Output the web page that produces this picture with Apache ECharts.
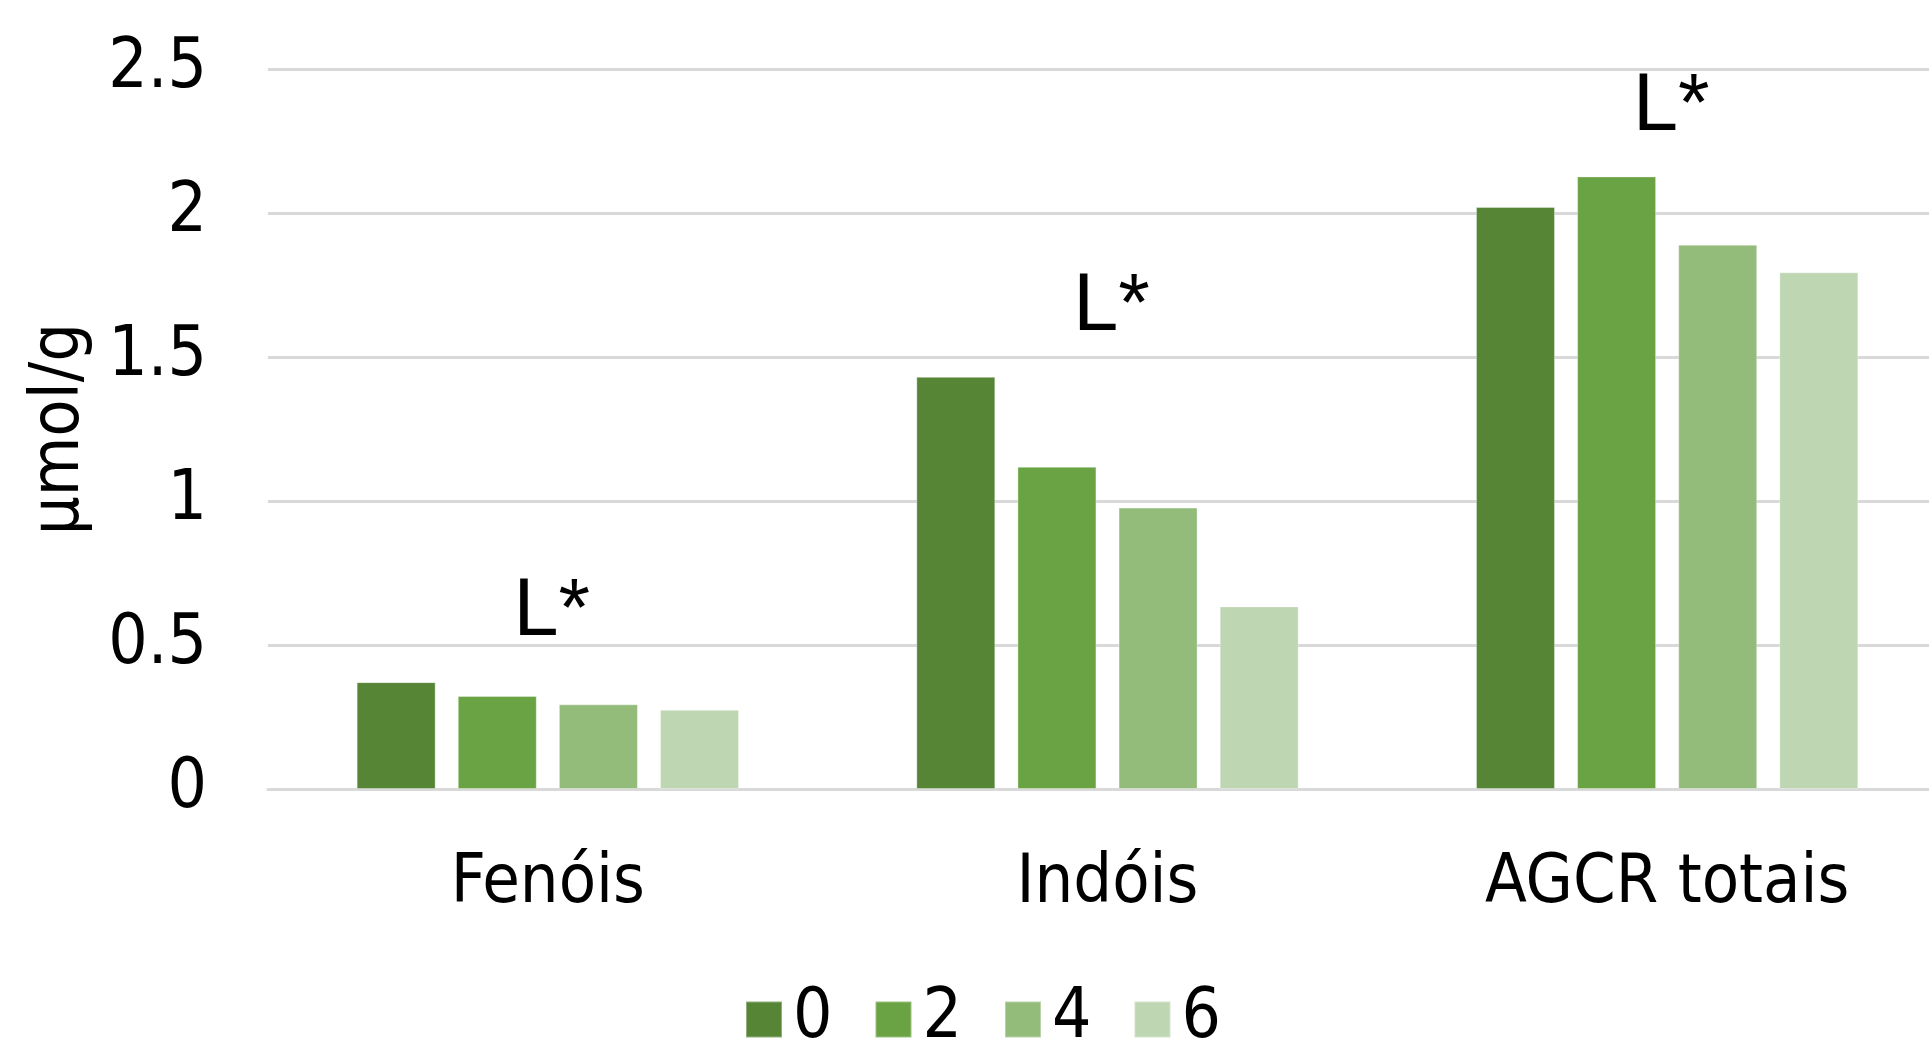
<!DOCTYPE html>
<html>
<head>
<meta charset="utf-8">
<script src="https://cdn.jsdelivr.net/npm/echarts@6/dist/echarts.min.js"></script>
<style>
html,body{margin:0;padding:0;background:#fff;overflow:hidden;}
#c{width:1929px;height:1044px;}
</style>
</head>
<body>
<div id="c"></div>
<script>
const categories = ['Fenóis', 'Indóis', 'AGCR totais'];
const seriesNames = ['0', '2', '4', '6'];
const values0 = [0.371, 1.431, 2.021];
const values2 = [0.323, 1.119, 2.127];
const values4 = [0.294, 0.977, 1.890];
const values6 = [0.275, 0.634, 1.794];
const annotations = ['L*', 'L*', 'L*'];
const yAxisName = 'μmol/g';

const colors = ['#568536', '#6aa343', '#93bb7a', '#bed6b2'];
const allValues = [values0, values2, values4, values6];
const FONT = "'DejaVu Sans Condensed', 'DejaVu Sans', sans-serif";

const chart = echarts.init(document.getElementById('c'));

const barSeries = allValues.map((vals, i) => ({
  name: seriesNames[i],
  type: 'bar',
  data: vals,
  barWidth: 79,
  barGap: '28%',
  itemStyle: { color: colors[i], borderColor: 'rgba(255,255,255,0.35)', borderWidth: 1 },
  emphasis: { disabled: true }
}));

const annotData = categories.map((c, i) => {
  const m = Math.max(...allValues.map(v => v[i]));
  return [i, m + 0.24];
});

chart.setOption({
  animation: false,
  backgroundColor: '#ffffff',
  grid: { left: 268, width: 1679, top: 69, bottom: 255, containLabel: false, outerBoundsMode: 'none' },
  legend: {
    data: seriesNames,
    left: 740,
    top: 980,
    itemWidth: 36,
    itemHeight: 36,
    itemGap: 42,
    icon: 'rect',
    textStyle: { fontFamily: FONT, fontSize: 69, color: '#000', padding: [0, 0, 0, 6] }
  },
  xAxis: {
    type: 'category',
    data: categories,
    axisLine: { show: true, lineStyle: { color: '#d9d9d9', width: 3 } },
    axisTick: { show: false },
    axisLabel: { fontFamily: FONT, fontSize: 68, color: '#000', margin: 61 }
  },
  yAxis: {
    type: 'value',
    min: 0,
    max: 2.5,
    interval: 0.5,
    name: yAxisName,
    nameLocation: 'middle',
    nameGap: 174,
    nameRotate: 90,
    nameTextStyle: { fontFamily: FONT, fontSize: 68, color: '#000' },
    axisLine: { show: false },
    axisTick: { show: false },
    axisLabel: { fontFamily: FONT, fontSize: 69, color: '#000', margin: 61 },
    splitLine: { show: true, lineStyle: { color: '#d9d9d9', width: 3 } }
  },
  series: barSeries.concat([{
    type: 'scatter',
    data: annotData,
    symbolSize: 0,
    silent: true,
    z: 5,
    itemStyle: { opacity: 1 },
    label: {
      show: true,
      position: 'inside',
      offset: [4, 0],
      formatter: p => annotations[p.dataIndex],
      fontFamily: "'Liberation Sans', Arial, sans-serif",
      fontSize: 81,
      color: '#000',
      opacity: 1
    }
  }])
});
</script>
</body>
</html>
